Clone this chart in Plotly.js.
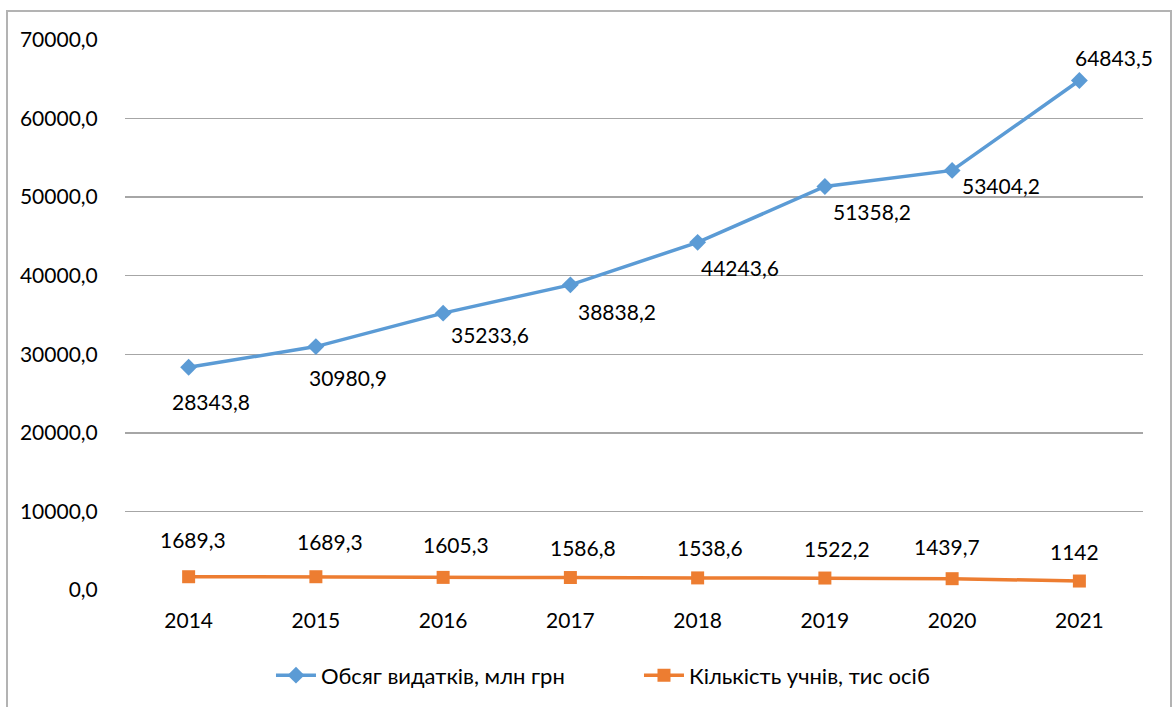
<!DOCTYPE html>
<html><head><meta charset="utf-8">
<script src="https://cdn.plot.ly/plotly-3.0.1.min.js"></script>
<style>
html,body{margin:0;padding:0;background:#fff;overflow:hidden;}
#wrap{position:relative;width:1173px;height:707px;}
#frame{position:absolute;left:6px;top:10px;width:1166px;height:710px;border:2px solid #b3b3b3;pointer-events:none;box-sizing:border-box;}
</style></head>
<body><div id="wrap"><div id="chart"></div><div id="frame"></div></div>
<script>
const years = ['2014','2015','2016','2017','2018','2019','2020','2021'];
const spending = [28343.8, 30980.9, 35233.6, 38838.2, 44243.6, 51358.2, 53404.2, 64843.5];
const students = [1689.3, 1689.3, 1605.3, 1586.8, 1538.6, 1522.2, 1439.7, 1142];
const spendingLabels = ['28343,8','30980,9','35233,6','38838,2','44243,6','51358,2','53404,2','64843,5'];
const studentLabels = ['1689,3','1689,3','1605,3','1586,8','1538,6','1522,2','1439,7','1142'];
const seriesNames = ['Обсяг видатків, млн грн','Кількість учнів, тис осіб'];

const FONT = 'Lato, Carlito, "Noto Sans", sans-serif';
const blue = '#5B9BD5', orange = '#ED7D31';

// label offsets (px)
const blueShift = [[22,-34],[32,-31],[47,-21],[47,-27],[42,-25],[47,-25],[49,-15],[35,23]];
const orangeShift = [[4,37],[14,35],[13,33],[13,30],[12,30],[12,30],[-5,32],[-5,30]];

const annotations = [];
years.forEach((y,i)=>{
  annotations.push({x:i, y:spending[i], xref:'x', yref:'y', text:spendingLabels[i], showarrow:false,
    xshift:blueShift[i][0], yshift:blueShift[i][1], font:{family:FONT,size:21,color:'#000'}});
  annotations.push({x:i, y:students[i], xref:'x', yref:'y', text:studentLabels[i], showarrow:false,
    xshift:orangeShift[i][0], yshift:orangeShift[i][1], font:{family:FONT,size:21,color:'#000'}});
});

const traces = [
  {x:years, y:spending, name:seriesNames[0], type:'scatter', mode:'lines+markers',
   line:{color:blue,width:3.5}, marker:{symbol:'diamond',size:13,color:blue}},
  {x:years, y:students, name:seriesNames[1], type:'scatter', mode:'lines+markers',
   line:{color:orange,width:3.5}, marker:{symbol:'square',size:13,color:orange}}
];

const layout = {
  width:1173, height:707,
  margin:{l:125, r:30, t:40, b:116, pad:0},
  paper_bgcolor:'#fff', plot_bgcolor:'#fff',
  separators:',.',
  font:{family:FONT, size:21, color:'#000'},
  showlegend:true,
  legend:{orientation:'h', x:0.1434, xanchor:'left', y:-0.115, yanchor:'top',
    font:{family:FONT,size:22,color:'#000'}, itemwidth:40, tracegroupgap:0, entrywidth:313},
  xaxis:{type:'category', range:[-0.5,7.5], showgrid:false, zeroline:false, showline:false,
    ticks:'outside', ticklen:12, tickcolor:'rgba(0,0,0,0)', tickfont:{family:FONT,size:21,color:'#000'}, fixedrange:true},
  yaxis:{range:[0,70000], dtick:10000, tickformat:'.1f', showgrid:true, gridcolor:'#a6a6a6', gridwidth:1.3,
    zeroline:false, showline:false, ticks:'outside', ticklen:22, tickcolor:'rgba(0,0,0,0)',
    tickfont:{family:FONT,size:21,color:'#000'}, fixedrange:true},
  annotations:annotations
};
Plotly.newPlot('chart', traces, layout, {displayModeBar:false, staticPlot:true});
</script></body></html>
